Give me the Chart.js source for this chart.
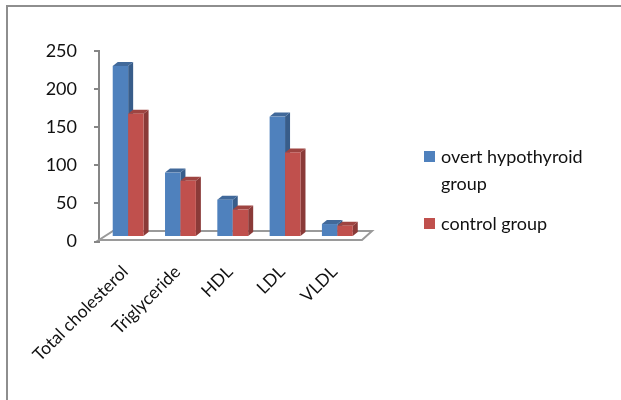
<!DOCTYPE html>
<html>
<head>
<meta charset="utf-8">
<script src="https://cdn.jsdelivr.net/npm/chart.js@4.4.1/dist/chart.umd.min.js"></script>
<style>
  html, body { margin: 0; padding: 0; background: #fff; }
  #wrap { position: relative; width: 621px; height: 400px; overflow: hidden; }
  #frame { position: absolute; left: 6px; top: 5px; width: 700px; height: 500px;
           border-top: 2px solid #8e8e8e; border-left: 2px solid #8e8e8e; }
  canvas { position: absolute; left: 0; top: 0; }
  #legend { position: absolute; left: 424px; top: 143px; font-family: Lato, "Open Sans", sans-serif;
            font-size: 18px; color: #111; }
  .item { position: relative; padding-left: 17px; width: 170px; line-height: 26.6px; margin-bottom: 14px; }
  .sw { position: absolute; left: 0; top: 8px; width: 11px; height: 11px; }
</style>
</head>
<body>
<div id="wrap">
  <div id="frame"></div>
  <canvas id="c" width="621" height="400"></canvas>
  <div id="legend"></div>
</div>
<script>
// Lipid profile, mg/dl
const categories = ['Total cholesterol', 'Triglyceride', 'HDL', 'LDL', 'VLDL'];
const overtValues = [224.5, 84.5, 49, 158, 17];
const controlValues = [161.8, 73.8, 36, 111, 14.8];
const seriesNames = ['overt hypothyroid group', 'control group'];
const yMin = 0, yMax = 250, yStep = 50;

const frontColors = ['#4F81BD', '#C0504D'];
const sideColors = ['#385D8A', '#8A3A38'];
const topColors = ['#41699A', '#9E4441'];

// depth of the 3-D boxes and the shift of the bar row behind the front edge
const DEPTH_X = 5, DEPTH_Y = 4;
const ROW_DX = 3, ROW_DY = -4.5;

function shade(ctx, pts, color) {
  ctx.beginPath();
  ctx.moveTo(pts[0][0], pts[0][1]);
  for (let i = 1; i < pts.length; i++) ctx.lineTo(pts[i][0], pts[i][1]);
  ctx.closePath();
  ctx.fillStyle = color;
  ctx.fill();
}

const box3d = {
  id: 'box3d',
  beforeDatasetsDraw(chart) {
    const ctx = chart.ctx, a = chart.chartArea;
    const y0 = chart.scales.y.getPixelForValue(0);
    // floor outline
    const fy = y0 - 1.5, by = y0 - 10.5;
    ctx.save();
    ctx.strokeStyle = '#9a9a9a';
    ctx.lineWidth = 2;
    ctx.beginPath();
    ctx.moveTo(a.left, fy);
    ctx.lineTo(a.right + 1.5, fy);
    ctx.lineTo(a.right + 11.5, by);
    ctx.lineTo(a.left + 14, by);
    ctx.closePath();
    ctx.stroke();
    ctx.restore();
  },
  afterDatasetsDraw(chart) {
    const ctx = chart.ctx;
    ctx.save();
    ctx.translate(ROW_DX, ROW_DY);
    const n = chart.data.labels.length;
    for (let i = 0; i < n; i++) {
      chart.data.datasets.forEach((ds, d) => {
        const el = chart.getDatasetMeta(d).data[i];
        const p = el.getProps(['x', 'y', 'base', 'width'], true);
        const x0 = p.x - p.width / 2, x1 = p.x + p.width / 2;
        const top = p.y, bot = p.base;
        shade(ctx, [[x1, top], [x1 + DEPTH_X, top - DEPTH_Y], [x1 + DEPTH_X, bot - DEPTH_Y], [x1, bot]], sideColors[d]);
        shade(ctx, [[x0, top], [x1, top], [x1 + DEPTH_X, top - DEPTH_Y], [x0 + DEPTH_X, top - DEPTH_Y]], topColors[d]);
        ctx.fillStyle = frontColors[d];
        ctx.fillRect(x0, top, x1 - x0, bot - top);
      });
    }
    ctx.restore();
  }
};

const fontFamily = 'Lato, "Open Sans", sans-serif';

new Chart(document.getElementById('c'), {
  type: 'bar',
  data: {
    labels: categories,
    datasets: [
      { label: seriesNames[0], data: overtValues, backgroundColor: 'rgba(0,0,0,0)', categoryPercentage: 0.59, barPercentage: 1.0 },
      { label: seriesNames[1], data: controlValues, backgroundColor: 'rgba(0,0,0,0)', categoryPercentage: 0.59, barPercentage: 1.0 }
    ]
  },
  options: {
    responsive: false,
    animation: false,
    devicePixelRatio: 1,
    layout: { padding: { left: 0, top: 51, right: 260.5, bottom: 0 } },
    plugins: { legend: { display: false }, tooltip: { enabled: false } },
    scales: {
      x: {
        grid: { display: false },
        border: { display: false },
        ticks: {
          minRotation: 45, maxRotation: 45, autoSkip: false, padding: 12,
          color: '#111', font: { family: fontFamily, size: 17.5 }
        },
        afterFit(s) { s.height = 400 - 241.5; }
      },
      y: {
        min: yMin, max: yMax,
        grid: { display: true, drawOnChartArea: false, drawTicks: true, tickLength: 5, color: '#868686', lineWidth: 2 },
        border: { display: true, color: '#868686', width: 2 },
        ticks: { stepSize: yStep, padding: 17, color: '#111', font: { family: fontFamily, size: 18 } },
        afterFit(s) { s.width = 99; }
      }
    }
  },
  plugins: [box3d]
});

// legend beside the plot
const legend = document.getElementById('legend');
seriesNames.forEach((name, i) => {
  const item = document.createElement('div');
  item.className = 'item';
  const sw = document.createElement('span');
  sw.className = 'sw';
  sw.style.background = frontColors[i];
  item.appendChild(sw);
  item.appendChild(document.createTextNode(name));
  legend.appendChild(item);
});
</script>
</body>
</html>
